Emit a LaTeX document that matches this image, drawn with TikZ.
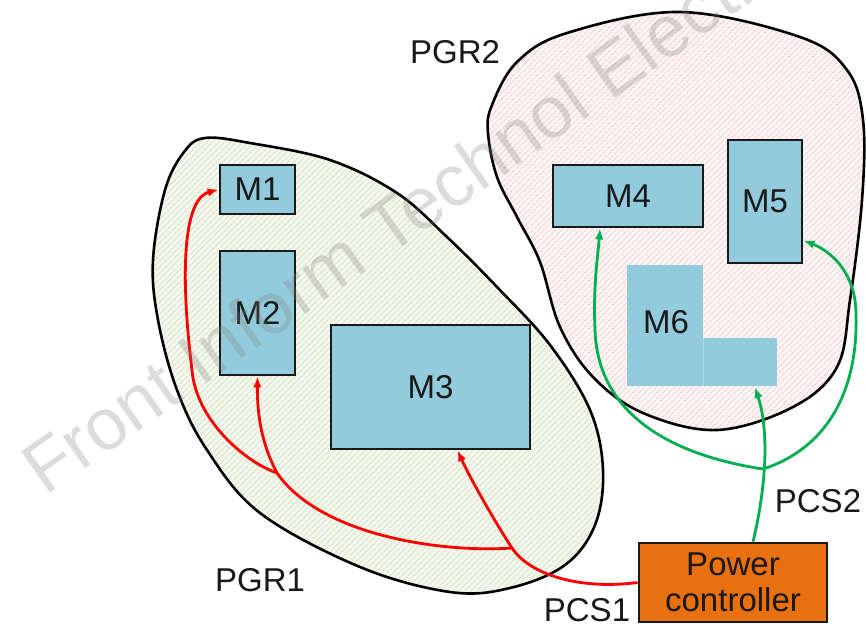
\documentclass[tikz,border=0pt]{standalone}
\usepackage{fontspec}
\setmainfont{Liberation Sans}
\usetikzlibrary{arrows.meta,patterns.meta,calc}
\definecolor{mbox}{HTML}{92CBDB}
\definecolor{pcor}{HTML}{E8700E}
\definecolor{pgrA}{HTML}{F5F8EE}
\definecolor{pgrAl}{HTML}{DDE6CB}
\definecolor{pgrB}{HTML}{FDF6F6}
\definecolor{pgrBl}{HTML}{F3D5D5}
\definecolor{pcsg}{HTML}{00B050}
\def\pgrone{plot[smooth cycle, tension=0.6] coordinates {(165,190) (184,152) (205,138) (250,143) (330,160) (397,193) (447,237) (497,287) (550,345) (590,410) (603,470) (595,525) (565,565) (510,588) (450,592) (360,567) (260,513) (207,450) (177,390) (158,320) (153,260)}}
\def\pgrtwo{plot[smooth cycle, tension=0.6] coordinates {(567,33) (680,12) (800,37) (847,70) (863,120) (862,200) (850,300) (837,367) (793,407) (717,430) (643,413) (593,377) (560,327) (540,262) (517,217) (497,177) (488,133) (492,105) (517,62)}}
\begin{document}
\begin{tikzpicture}[x=1pt,y=-1pt,
  lbl/.style={font=\fontsize{33}{36}\selectfont, text=black!90},
  module/.style={draw=black!90, line width=2.8pt, fill=mbox, inner sep=0pt, lbl},
  blob/.style={draw=black, line width=2.6pt},
  pcsone/.style={draw=red, line width=2.8pt, -{Latex[length=11pt,width=8.5pt]}},
  pcstwo/.style={draw=pcsg, line width=2.8pt, -{Latex[length=11pt,width=8.5pt]}},
  ]
\useasboundingbox (0,0) rectangle (866,628);

% power groups
\path[fill=pgrA] \pgrone;
\path[pattern={Lines[angle=45,distance=4pt,line width=1.3pt]}, pattern color=pgrAl] \pgrone;
\draw[blob] \pgrone;
\path[fill=pgrB] \pgrtwo;
\path[pattern={Lines[angle=45,distance=4pt,line width=1.3pt]}, pattern color=pgrBl] \pgrtwo;
\draw[blob] \pgrtwo;

% modules
\node[module, minimum width=75pt, minimum height=49pt] (m1) at (257.5,189.5) {M1};
\node[module, minimum width=75pt, minimum height=124pt] (m2) at (257.5,313) {M2};
\node[module, minimum width=199pt, minimum height=124pt] (m3) at (430.5,387) {M3};
\node[module, minimum width=150pt, minimum height=62pt] (m4) at (628,196) {M4};
\node[module, minimum width=74pt, minimum height=123pt] (m5) at (765,201.5) {M5};
\fill[mbox] (627,265) rectangle (703,386);
\fill[mbox] (703,338) rectangle (777,386);
\draw[mbox!70!white, line width=0.8pt] (703,338) -- (703,386);
\node[lbl] (m6) at (666,322) {M6};
\coordinate (m6tip) at (755,387);

% power controller
\node[draw=black!90, line width=2.8pt, fill=pcor, minimum width=188pt, minimum height=79pt,
      inner sep=0pt, align=center, lbl] (pc) at (733,582.5) {Power\\controller};

% labels
\node[lbl] at (455,52.5) {PGR2};
\node[lbl] at (260,580) {PGR1};
\node[lbl] at (587,610) {PCS1};
\node[lbl] at (818,501) {PCS2};

% PCS1 (red)
\coordinate (j1) at (512,548);
\coordinate (j2) at (277,473);
\coordinate (m3tip) at ($(m3.south)+(27,0)$);
\draw[pcsone] (pc.west) .. controls (580,590) and (530,575) .. (j1)
  .. controls (495,522) and (470,478) .. (m3tip);
\draw[pcsone] (j1) .. controls (440,553) and (320,535) .. (j2)
  .. controls (262,445) and (257,415) .. (m2.south);
\draw[pcsone] (j2) .. controls (245,462) and (196,420) .. (192,370)
  .. controls (182,290) and (180,200) .. (m1.west);

% PCS2 (green)
\coordinate (g0) at ($(pc.north)+(20,0)$);
\coordinate (j3) at (763,469);
\coordinate (m4tip) at ($(m4.south)+(-28,0)$);
\coordinate (m5tip) at ($(m5.east)+(0,39)$);
\draw[pcstwo] (g0) .. controls (762,505) and (772,440) .. (m6tip);
\draw[pcstwo] (j3) .. controls (690,458) and (598,425) .. (595,330)
  .. controls (593,285) and (598,255) .. (m4tip);
\draw[pcstwo] (j3) .. controls (828,448) and (858,390) .. (856,315)
  .. controls (856,270) and (828,250) .. (m5tip);

% watermark
\node[rotate=35, anchor=base west, font=\fontsize{73}{80}\selectfont,
      text=black!50, opacity=0.28, inner sep=0pt] (wm) at (45,497) {Front Inform Technol Electron Eng};
\end{tikzpicture}
\end{document}
